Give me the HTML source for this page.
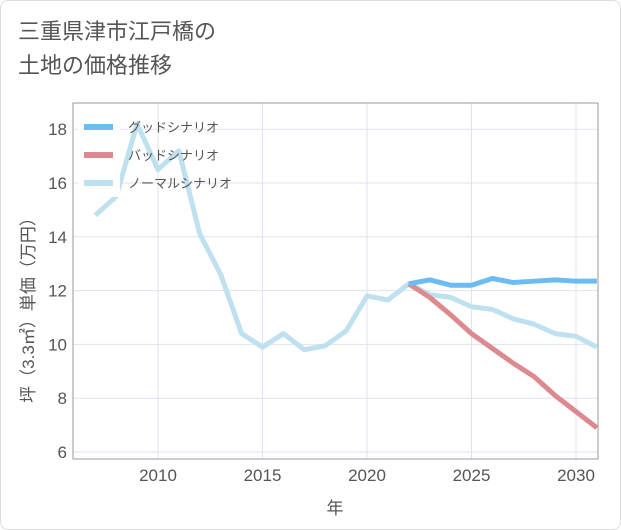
<!DOCTYPE html>
<html><head><meta charset="utf-8"><style>
body{margin:0;background:#fff;}
#wrap{position:relative;width:619px;height:528px;border:1px solid #ddd;border-radius:8px;background:#fff;overflow:hidden;}
#title{position:absolute;left:17px;top:14px;font:22px "Liberation Sans","Noto Sans CJK JP",sans-serif;color:#555;line-height:34px;}
svg{position:absolute;left:0;top:0;}
text{font-family:"Liberation Sans","Noto Sans CJK JP",sans-serif;}
</style></head><body>
<div id="wrap">
<div id="title">三重県津市江戸橋の<br>土地の価格推移</div>
<svg id="chart" width="621" height="530"></svg>
</div>
<script>
const years=[2007,2008,2009,2010,2011,2012,2013,2014,2015,2016,2017,2018,2019,2020,2021,2022,2023,2024,2025,2026,2027,2028,2029,2030,2031];
const normal=[14.8,15.5,18.2,16.5,17.2,14.1,12.6,10.4,9.9,10.4,9.8,9.95,10.5,11.8,11.65,12.25,11.85,11.75,11.4,11.3,10.95,10.75,10.4,10.3,9.9];
const futYears=[2022,2023,2024,2025,2026,2027,2028,2029,2030,2031];
const good=[12.25,12.4,12.2,12.2,12.45,12.3,12.35,12.4,12.35,12.35];
const bad=[12.25,11.75,11.1,10.4,9.85,9.3,8.8,8.1,7.5,6.9];
const yTicks=[6,8,10,12,14,16,18];
const xTicks=[2010,2015,2020,2025,2030];
const NS='http://www.w3.org/2000/svg',svg=document.getElementById('chart');
const L=72,R=597,T=102,B=458;
const x=v=>157+(v-2010)*20.9, y=v=>451-(v-6)*26.9;
function el(t,a,p){const e=document.createElementNS(NS,t);for(const k in a)e.setAttribute(k,a[k]);(p||svg).appendChild(e);return e;}
let g=el('g',{});
yTicks.forEach(v=>{const l=el('line',{x1:L,x2:R,y1:y(v),y2:y(v),stroke:'#dde4ee'},g);
 const t=el('text',{x:L-6,y:y(v)+6,'text-anchor':'end','font-size':17,fill:'#555'});t.textContent=v;
 });
xTicks.forEach(v=>{el('line',{x1:x(v),x2:x(v),y1:T,y2:B,stroke:'#dde4ee'},g);
 const t=el('text',{x:x(v),y:B+22,'text-anchor':'middle','font-size':17,fill:'#555'});t.textContent=v;
 });
let fr=el('rect',{x:L,y:T,width:R-L,height:B-T,fill:'none',stroke:'#999'});

let cp=el('clipPath',{id:'c'});el('rect',{x:L,y:T,width:R-L,height:B-T},cp);
function line(xs,ys,c,name){const p=el('polyline',{points:xs.map((v,i)=>x(v)+','+y(ys[i])).join(' '),fill:'none',stroke:c,'stroke-width':5,'stroke-linejoin':'round','clip-path':'url(#c)'});
 }
line(years,normal,'#bfe0ef','normal-scenario-line');
line(futYears,bad,'#dc8a8f','bad-scenario-line');
line(futYears,good,'#6cbcf2','good-scenario-line');
let lb=el('rect',{x:77,y:110,width:42,height:86,fill:'#fff'});

[['グッドシナリオ','#6cbcf2'],['バッドシナリオ','#dc8a8f'],['ノーマルシナリオ','#bfe0ef']].forEach((d,i)=>{
 const yy=126+i*28;const lg=el('g',{});
 el('line',{x1:83,x2:112,y1:yy,y2:yy,stroke:d[1],'stroke-width':6},lg);
 const t=el('text',{x:127,y:yy+5,'font-size':13,fill:'#555'},lg);t.textContent=d[0];});
let yt=el('text',{transform:'translate(33,305) rotate(-90)','text-anchor':'middle','font-size':17,fill:'#555'});
yt.textContent='坪（3.3㎡）単価（万円）';
let xt=el('text',{x:334,y:513,'text-anchor':'middle','font-size':17,fill:'#555'});
xt.textContent='年';
</script>
</body></html>
